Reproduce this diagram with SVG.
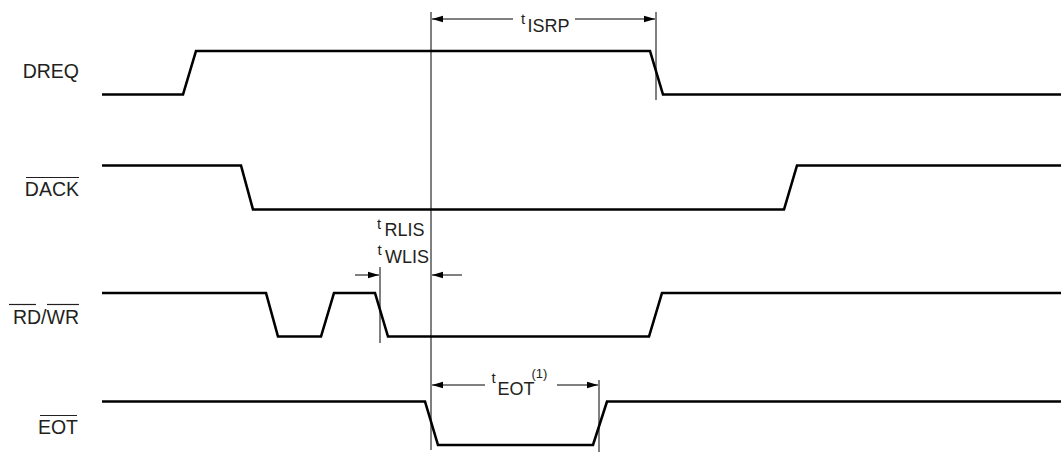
<svg xmlns="http://www.w3.org/2000/svg" width="1061" height="453" viewBox="0 0 1061 453">
<style>
.sig{fill:none;stroke:#000;stroke-width:2.6;stroke-linejoin:miter}
.guide{stroke:#000;stroke-width:1;fill:none}
.dim{stroke:#000;stroke-width:1;fill:none}
.lbl{font-family:"Liberation Sans",Arial,sans-serif;font-size:19.5px;fill:#231f20}
.ovl{stroke:#231f20;stroke-width:1.2}
.tm{font-family:"Liberation Sans",Arial,sans-serif;fill:#231f20}
.t{font-size:15px}
.sub{font-size:18px}
</style>
<defs>
<marker id="ah" markerWidth="12" markerHeight="8" refX="11" refY="4" orient="auto" markerUnits="userSpaceOnUse">
<path d="M0,0.8 L11,4 L0,7.2 Z" fill="#000"/>
</marker>
</defs>
<rect width="1061" height="453" fill="#fff"/>
<g id="DREQ">
<text class="lbl" x="79" y="77.5" text-anchor="end">DREQ</text>
<path class="sig" d="M102,94.5 H183 L196,51 H650 L663,94.5 H1061"/>
</g>
<g id="DACK">
<text class="lbl" x="79" y="195.5" text-anchor="end">DACK</text>
<line class="ovl" x1="26" y1="177.5" x2="79" y2="177.5"/>
<path class="sig" d="M102,165.5 H241 L253,209.5 H784 L797,165.5 H1061"/>
</g>
<g id="RDWR">
<text class="lbl" x="79" y="324" text-anchor="end">RD/WR</text>
<line class="ovl" x1="9" y1="304.5" x2="36" y2="304.5"/>
<line class="ovl" x1="47" y1="304.5" x2="79" y2="304.5"/>
<path class="sig" d="M102,293 H266 L278,336.5 H321 L334,293 H375 L388,336.5 H649 L662,293 H1061"/>
</g>
<g id="EOT">
<text class="lbl" x="78" y="434" text-anchor="end">EOT</text>
<line class="ovl" x1="40" y1="415.5" x2="77" y2="415.5"/>
<path class="sig" d="M102,401.5 H425 L438,445 H593 L607,401.5 H1061"/>
</g>
<g id="connectors">
<line class="guide" x1="431" y1="12" x2="431" y2="450"/>
<line class="guide" x1="656" y1="12" x2="656" y2="100"/>
<line class="guide" x1="380" y1="267" x2="380" y2="343"/>
<line class="guide" x1="599" y1="380" x2="599" y2="452"/>
<line class="dim" x1="513" y1="19" x2="432" y2="19" marker-end="url(#ah)"/>
<line class="dim" x1="575" y1="19" x2="655" y2="19" marker-end="url(#ah)"/>
<line class="dim" x1="355" y1="275" x2="379" y2="275" marker-end="url(#ah)"/>
<line class="dim" x1="462" y1="275" x2="432" y2="275" marker-end="url(#ah)"/>
<line class="dim" x1="485" y1="385" x2="432" y2="385" marker-end="url(#ah)"/>
<line class="dim" x1="557" y1="385" x2="598" y2="385" marker-end="url(#ah)"/>
</g>
<g id="label-tISRP">
<text class="tm t" x="521" y="23.5">t</text>
<text class="tm sub" x="527.5" y="31.5">ISRP</text>
</g>
<g id="label-tRLIS">
<text class="tm t" x="377" y="228.5">t</text>
<text class="tm sub" x="384.5" y="236">RLIS</text>
<text class="tm t" x="377.5" y="255">t</text>
<text class="tm sub" x="385" y="262.5">WLIS</text>
</g>
<g id="label-tEOT">
<text class="tm t" x="491.5" y="383">t</text>
<text class="tm sub" x="497.5" y="395" font-size="17.5px">EOT</text>
<text class="tm" x="531.5" y="378" font-size="13">(1)</text>
</g>
</svg>
